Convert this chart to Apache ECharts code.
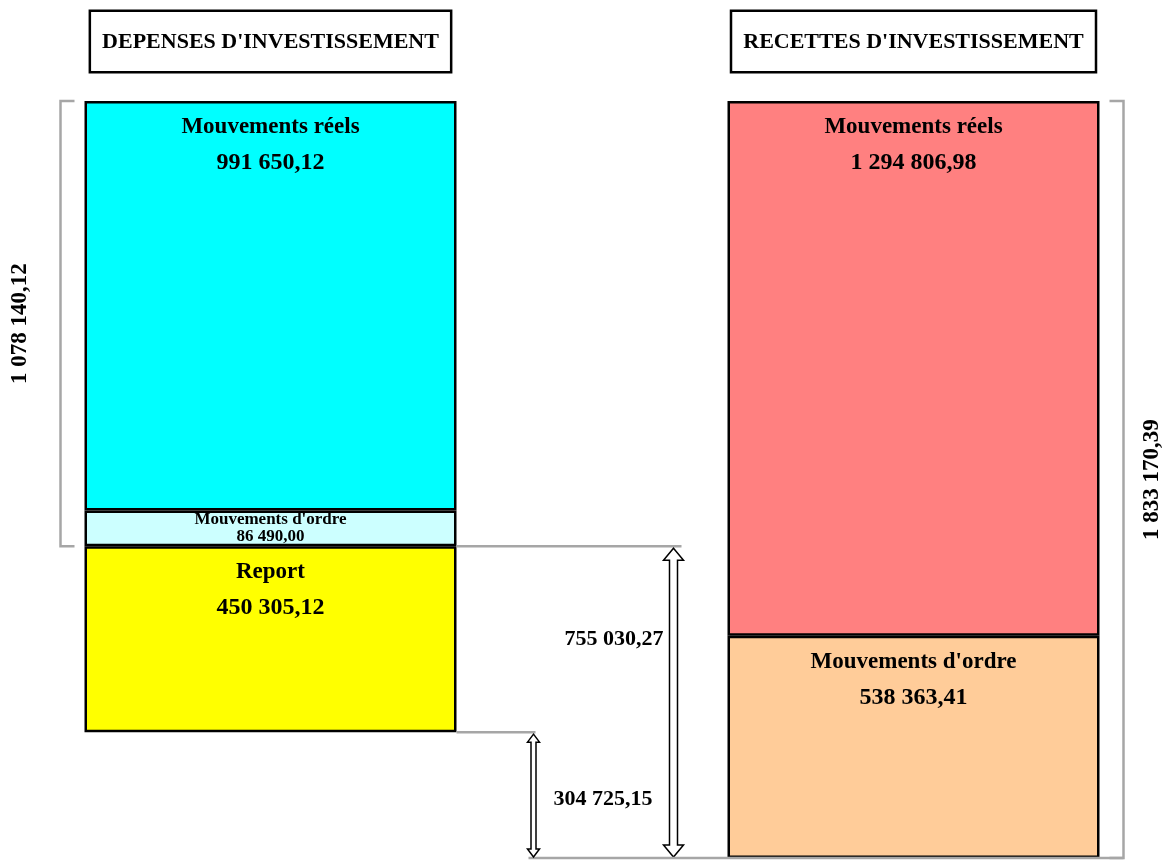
<!DOCTYPE html>
<html><head><meta charset="utf-8">
<script src="https://cdn.jsdelivr.net/npm/echarts@6/dist/echarts.min.js"></script>
<style>html,body{margin:0;padding:0;background:#fff}#c{width:1172px;height:861px}</style>
</head><body><div id="c"></div>
<script>
// ---------- data ----------
const categories = ["DEPENSES D'INVESTISSEMENT", "RECETTES D'INVESTISSEMENT"];
const depenseNames = ["Report", "Mouvements d'ordre", "Mouvements réels"];   // bottom -> top
const depenseValues = [450305.12, 86490.00, 991650.12];
const recetteNames = ["Mouvements d'ordre", "Mouvements réels"];             // bottom -> top
const recetteValues = [538363.41, 1294806.98];

// ---------- styles ----------
const depenseColors = ['#FFFF00', '#CCFFFF', '#00FFFF'];
const recetteColors = ['#FFCC99', '#FF8080'];
const FONT = "'Liberation Serif', 'Times New Roman', serif";
const BAR_W = 372;
const GREY = '#a6a6a6';

const sum = a => a.reduce((s, v) => s + v, 0);
const depTotal = sum(depenseValues), recTotal = sum(recetteValues);
const gap = recTotal - depTotal;   // écart entre les deux totaux
function fr(v) {
  const [i, d] = (Math.round(v * 100) / 100).toFixed(2).split('.');
  return i.replace(/\B(?=(\d{3})+(?!\d))/g, ' ') + ',' + d;
}

function segLabel(value) {
  const compact = value / recTotal < 0.08;
  return {
    show: true, position: 'insideTop', distance: compact ? 1 : 8,
    formatter: p => `{n|${p.seriesName}}\n{v|${fr(p.value)}}`,
    rich: {
      n: { fontFamily: FONT, fontWeight: 'bold', fontSize: compact ? 17 : 23, lineHeight: compact ? 17 : 36, color: '#000' },
      v: { fontFamily: FONT, fontWeight: 'bold', fontSize: compact ? 17 : 24, lineHeight: compact ? 17 : 36, color: '#000' }
    }
  };
}

const series = [{
  name: 'base', type: 'bar', stack: 's', barWidth: BAR_W, silent: true,
  data: [gap, 0], itemStyle: { color: 'rgba(0,0,0,0)', borderWidth: 0 }, label: { show: false }
}];
depenseNames.forEach((n, i) => series.push({
  name: n, type: 'bar', stack: 's', barWidth: BAR_W,
  data: [depenseValues[i], '-'],
  itemStyle: { color: depenseColors[i], borderColor: '#000', borderWidth: 2.5 },
  label: segLabel(depenseValues[i])
}));
recetteNames.forEach((n, i) => series.push({
  name: n, type: 'bar', stack: 's', barWidth: BAR_W,
  data: ['-', recetteValues[i]],
  itemStyle: { color: recetteColors[i], borderColor: '#000', borderWidth: 2.5 },
  label: segLabel(recetteValues[i])
}));

// annotations (brackets, arrows) built from the data
const annotations = [
  { kind: 'bracketL', cat: 0, from: gap + depenseValues[0], to: recTotal, text: fr(depenseValues[1] + depenseValues[2]) },
  { kind: 'bracketR', cat: 1, from: 0, to: recTotal, text: fr(recTotal) },
  { kind: 'arrowBig', cat: 0, from: 0, to: gap + depenseValues[0], text: fr(gap + depenseValues[0]), labelAt: gap + depenseValues[0] / 2 },
  { kind: 'arrowSmall', cat: 0, from: 0, to: gap, text: fr(gap) }
];

function arrowPts(cx, yTop, yBot, hw, sw, hl) {
  return [[cx, yTop], [cx + hw, yTop + hl], [cx + sw, yTop + hl], [cx + sw, yBot - hl], [cx + hw, yBot - hl],
          [cx, yBot], [cx - hw, yBot - hl], [cx - sw, yBot - hl], [cx - sw, yTop + hl], [cx - hw, yTop + hl]];
}
function txt(x, y, text, align, rot, size) {
  return { type: 'text', x, y, rotation: rot || 0,
    style: { text, fontFamily: FONT, fontWeight: 'bold', fontSize: size || 22, fill: '#000', align, verticalAlign: 'middle' } };
}
function line(pts) {
  return { type: 'polyline', shape: { points: pts }, style: { stroke: GREY, lineWidth: 2.5, fill: null } };
}

function renderAnn(params, api) {
  const a = annotations[params.dataIndex];
  const cx0 = api.coord([0, 0])[0], cx1 = api.coord([1, 0])[0];
  const leftBarL = cx0 - BAR_W / 2, leftBarR = cx0 + BAR_W / 2;
  const rightBarL = cx1 - BAR_W / 2, rightBarR = cx1 + BAR_W / 2;
  const yf = api.coord([a.cat, a.from])[1], yt = api.coord([a.cat, a.to])[1];
  const ch = [];
  if (a.kind === 'bracketL') {
    const x = leftBarL - 24;
    ch.push(line([[x + 14, yt], [x, yt], [x, yf], [x + 14, yf]]));
    ch.push(txt(x - 40, (yt + yf) / 2, a.text, 'center', Math.PI / 2, 23));
  } else if (a.kind === 'bracketR') {
    const x = rightBarR + 24;
    ch.push(line([[x - 14, yt], [x, yt], [x, yf], [x - 14, yf]]));
    ch.push(txt(x + 29, (yt + yf) / 2, a.text, 'center', Math.PI / 2, 23));
  } else if (a.kind === 'arrowBig') {
    const ax = rightBarL - 54;
    ch.push(line([[leftBarR, yt], [ax + 8, yt]]));
    ch.push({ type: 'polygon', shape: { points: arrowPts(ax, yt + 2, yf - 1, 10, 4, 12) },
      style: { fill: '#fff', stroke: '#000', lineWidth: 1.5 } });
    ch.push(txt(ax - 10, api.coord([a.cat, a.labelAt])[1], a.text, 'right'));
  } else if (a.kind === 'arrowSmall') {
    const ax = leftBarR + 77;
    ch.push(line([[leftBarR, yt], [ax + 2, yt]]));
    ch.push(line([[ax - 5, yf], [rightBarR + 24, yf]]));
    ch.push({ type: 'polygon', shape: { points: arrowPts(ax, yt + 2, yf - 1, 6, 2.5, 8) },
      style: { fill: '#fff', stroke: '#000', lineWidth: 1.5 } });
    ch.push(txt(ax + 20, (yt + yf) / 2 + 4, a.text, 'left'));
  }
  return { type: 'group', children: ch };
}

series.push({
  type: 'custom', name: 'annotations', renderItem: renderAnn, silent: true, z: 5, clip: false,
  data: annotations.map(a => [a.cat, a.from, a.to]),
  encode: { x: 0, y: [1, 2] }
});

const chart = echarts.init(document.getElementById('c'), null, { renderer: 'canvas' });
chart.setOption({
  animation: false,
  backgroundColor: '#fff',
  grid: { left: 270.5, right: 258.5, top: 101, bottom: 3, containLabel: false, outerBoundsMode: 'none' },
  xAxis: {
    type: 'category', data: categories, position: 'top', boundaryGap: false,
    axisLine: { show: false }, axisTick: { show: false }, splitLine: { show: false },
    axisLabel: {
      interval: 0, margin: 30, fontFamily: FONT, fontWeight: 'bold', fontSize: 22, color: '#000',
      borderColor: '#000', borderWidth: 2.5, padding: [19, 11, 18, 11], backgroundColor: '#fff'
    }
  },
  yAxis: { type: 'value', min: 0, max: recTotal, show: false },
  series
});
</script>
</body></html>
